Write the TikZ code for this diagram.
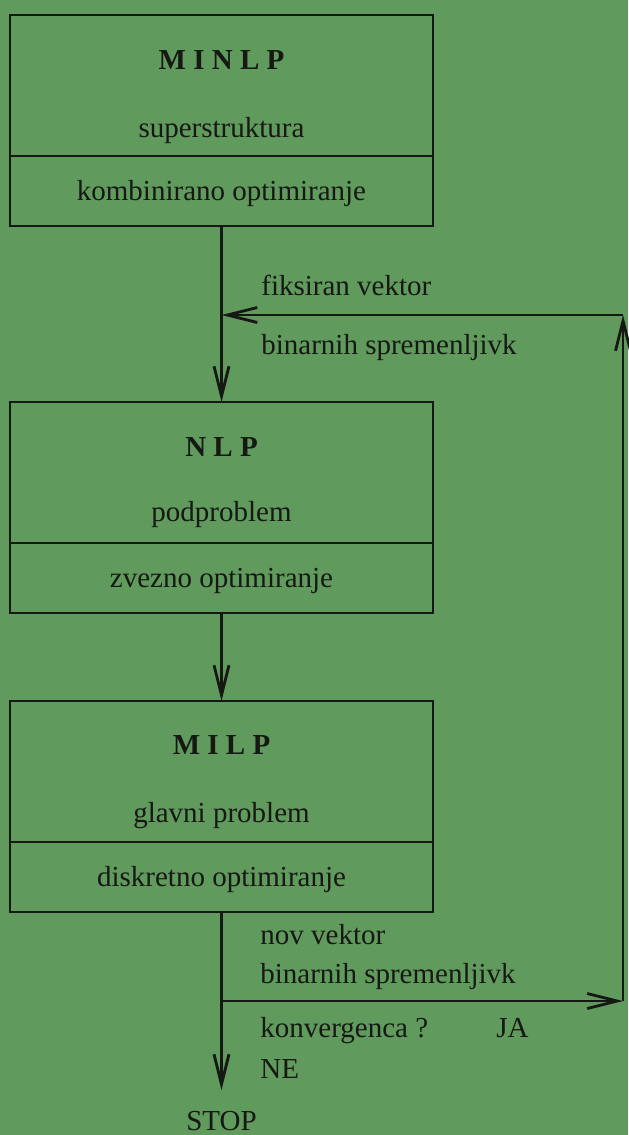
\documentclass[tikz,border=0pt]{standalone}
\usepackage{fontspec}
\setmainfont{Liberation Serif}
\usetikzlibrary{arrows.meta,positioning}
\definecolor{bggreen}{RGB}{96,154,92}
\definecolor{ink}{RGB}{22,24,20}

\begin{document}
\begin{tikzpicture}[x=0.5pt, y=-0.5pt, line width=1.4pt, draw=ink, text=ink,
    font=\fontsize{14.5}{17}\selectfont,
    upper/.style={draw, minimum width=211.5pt, minimum height=70.5pt, inner sep=0pt, outer sep=0pt},
    lower/.style={draw, minimum width=211.5pt, minimum height=35pt, inner sep=0pt, outer sep=0pt, text height=10pt, text depth=1pt},
    title/.style={font=\fontsize{14.5}{17}\selectfont\bfseries},
    sub/.style={anchor=base},
    note/.style={anchor=base west, inner sep=0pt},
    flow/.style={-{Straight Barb[length=15pt, width=7.5pt]}}]
    \fill[bggreen] (0,0) rectangle (628,1135);
    \useasboundingbox (0,0) rectangle (628,1135);

    \node[upper] (minlp) at (221.5,85.5) {};
    \node[lower, below=0pt of minlp] (minlpopt) {kombinirano optimiranje};
    \node[title] at (221.5,60) {M I N L P};
    \node[sub] at (221.5,137) {superstruktura};

    \node[upper] (nlp) at (221.5,472.5) {};
    \node[lower, below=0pt of nlp] (nlpopt) {zvezno optimiranje};
    \node[title] at (221.5,447) {N L P};
    \node[sub] at (221.5,521) {podproblem};

    \node[upper] (milp) at (221.5,771.5) {};
    \node[lower, below=0pt of milp] (milpopt) {diskretno optimiranje};
    \node[title] at (221.5,745) {M I L P};
    \node[sub] at (221.5,822) {glavni problem};

    \node[note] (fix1) at (260,295) {fiksiran vektor};
    \node[note] (fix2) at (260,354) {binarnih spremenljivk};
    \node[note] (new1) at (259,944) {nov vektor};
    \node[note] (new2) at (259,983) {binarnih spremenljivk};
    \node[note] (conv) at (259,1037) {konvergenca ?};
    \node[note] (yes) at (495,1037) {JA};
    \node[note] (no) at (259,1078) {NE};
    \node[sub, inner sep=0pt] (stoplabel) at (221.5,1130) {STOP};

    \coordinate (turn) at (623,315);
    \coordinate (corner) at (623,1001);
    \coordinate (split) at (milpopt.south |- corner);
    \coordinate (stop) at (221.5,1090);

    \draw[flow] (minlpopt.south) -- (nlp.north);
    \draw[flow] (nlpopt.south) -- (milp.north);
    \draw[flow] (milpopt.south) -- (stop);
    \draw[flow] (split) -- (corner);
    \draw[flow] (corner) -- (turn);
    \draw[flow] (turn) -- (turn -| minlpopt.south);
\end{tikzpicture}
\end{document}
